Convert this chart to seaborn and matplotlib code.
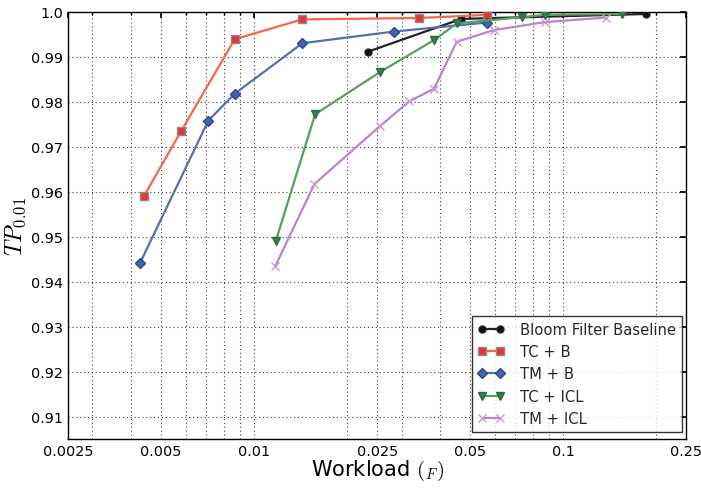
import numpy as np
import pandas as pd
import matplotlib
matplotlib.use("Agg")
import matplotlib.pyplot as plt
from matplotlib.ticker import FixedLocator, FixedFormatter, LogLocator, NullFormatter
import seaborn as sns

# Workload fraction vs. TP at 1% for each method
bloom_x = [0.0233, 0.0468, 0.1855]
bloom_y = [0.9911, 0.9984, 0.9995]

tcb_x = [0.00440, 0.00581, 0.00866, 0.01433, 0.0342, 0.0566]
tcb_y = [0.9590, 0.9735, 0.9939, 0.9983, 0.9986, 0.9993]

tmb_x = [0.00428, 0.00711, 0.00866, 0.01433, 0.0284, 0.0567]
tmb_y = [0.9442, 0.9758, 0.9818, 0.9930, 0.9956, 0.9976]

tcicl_x = [0.01175, 0.01575, 0.02556, 0.0382, 0.0453, 0.0735, 0.0875, 0.1547]
tcicl_y = [0.9490, 0.9772, 0.9866, 0.9937, 0.9974, 0.9988, 0.9993, 0.9995]

tmicl_x = [0.01170, 0.01567, 0.02556, 0.0318, 0.0382, 0.0452, 0.0595, 0.0875, 0.1374]
tmicl_y = [0.9434, 0.9617, 0.9746, 0.9801, 0.9829, 0.9933, 0.9959, 0.9977, 0.9987]

x_ticks = [0.0025, 0.005, 0.01, 0.025, 0.05, 0.1, 0.25]
x_tick_labels = ["0.0025", "0.005", "0.01", "0.025", "0.05", "0.1", "0.25"]
y_ticks = [0.91, 0.92, 0.93, 0.94, 0.95, 0.96, 0.97, 0.98, 0.99, 1.0]
y_tick_labels = ["0.91", "0.92", "0.93", "0.94", "0.95", "0.96", "0.97", "0.98", "0.99", "1.0"]

series = [
    ("Bloom Filter Baseline", bloom_x, bloom_y, "#222222", "o", "#111111", "#222222", 5),
    ("TC + B", tcb_x, tcb_y, "#F7654A", "s", "#E8333A", "#8a8a8a", 5.5),
    ("TM + B", tmb_x, tmb_y, "#5470B3", "D", "#3F67B0", "#2c4a80", 5),
    ("TC + ICL", tcicl_x, tcicl_y, "#5A9E5F", "v", "#2F8050", "#2a6a40", 6),
    ("TM + ICL", tmicl_x, tmicl_y, "#B985C9", "x", "#C79AD6", "#C79AD6", 6),
]

sns.set_theme(style="white")
plt.rcParams["font.family"] = ["DejaVu Sans"]
plt.rcParams["mathtext.fontset"] = "cm"

fig = plt.figure(figsize=(7.01, 4.89), dpi=100)
ax = fig.add_axes([0.097, 0.100, 0.882, 0.874])

for label, xs, ys, lc, mk, mfc, mec, ms in series:
    df = pd.DataFrame({"x": xs, "y": ys})
    sns.lineplot(data=df, x="x", y="y", ax=ax, sort=False, color=lc, linewidth=1.6,
                 marker=mk, markersize=ms, markerfacecolor=mfc, markeredgecolor=mec,
                 markeredgewidth=1.0, label=label, zorder=3)

ax.set_xscale("log")
ax.set_xlim(0.0025, 0.25)
ax.set_ylim(0.905, 1.0)

ax.xaxis.set_major_locator(FixedLocator(x_ticks))
ax.xaxis.set_major_formatter(FixedFormatter(x_tick_labels))
ax.xaxis.set_minor_locator(LogLocator(base=10, subs=np.arange(2, 10)))
ax.xaxis.set_minor_formatter(NullFormatter())
ax.yaxis.set_major_locator(FixedLocator(y_ticks))
ax.yaxis.set_major_formatter(FixedFormatter(y_tick_labels))

ax.grid(True, which="both", axis="x", color="black", linestyle=(0, (1, 2.5)), linewidth=0.8, alpha=0.75)
ax.grid(True, which="major", axis="y", color="black", linestyle=(0, (1, 2.5)), linewidth=0.8, alpha=0.75)

ax.tick_params(which="both", direction="in", top=True, right=True, colors="black",
               labelsize=10.4, length=4)
ax.tick_params(which="minor", length=2)
for s in ax.spines.values():
    s.set_color("black")
    s.set_linewidth(1.0)

ax.set_xlabel(r"Workload $(_F)$", fontsize=15, color="black", labelpad=0)
ax.set_ylabel(r"$TP_{0.01}$", fontsize=17, color="black", labelpad=2)

leg = ax.legend(loc="lower right", bbox_to_anchor=(0.9935, 0.0164), borderaxespad=0,
                numpoints=2, fontsize=10.6, frameon=True, fancybox=False,
                borderpad=0.4, handlelength=1.8, handletextpad=1.1, labelspacing=0.5)
leg.get_frame().set_edgecolor("black")
leg.get_frame().set_linewidth(1.0)

fig.savefig("out.png", dpi=100)
